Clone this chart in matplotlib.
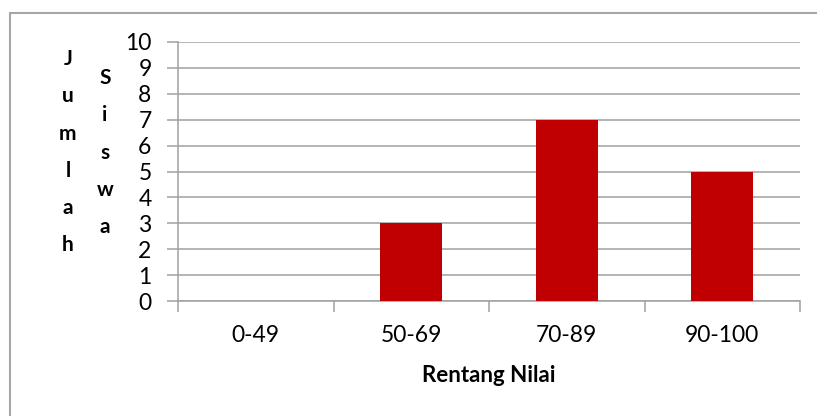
import matplotlib.pyplot as plt
from matplotlib.patches import Rectangle

plt.rcParams['font.family'] = ['Lato', 'DejaVu Sans']

categories = ['0-49', '50-69', '70-89', '90-100']
jumlah = [0, 3, 7, 5]
y_ticks = list(range(0, 11))

fig = plt.figure(figsize=(8.17, 4.16), dpi=100)
ax = fig.add_axes([178/817, 1-301/416, (800-178)/817, (301-42)/416])

# outer chart border (only top/left visible in the crop)
fig.patches.append(Rectangle((10/817, -0.2), 2, 1-13/416+0.2, transform=fig.transFigure,
                             fill=False, edgecolor='#A6A6A6', linewidth=1.5))

x = range(len(categories))
ax.bar(x, jumlah, width=0.4, color='#C00000', zorder=3)

ax.set_xlim(-0.5, len(categories) - 0.5)
ax.set_ylim(0, 10)
ax.set_yticks(y_ticks)
ax.yaxis.grid(True, color='#A0A0A0', linewidth=1.1, zorder=0)

# category boundary ticks
ax.set_xticks([i - 0.5 for i in range(len(categories) + 1)])
ax.set_xticklabels([])
ax.set_xticks(list(x), minor=True)
ax.set_xticklabels(categories, minor=True, fontsize=16.5)
ax.tick_params(axis='x', which='major', length=8, color='#A0A0A0', width=1.1, direction='out')
ax.tick_params(axis='x', which='minor', length=0, pad=17)
ax.tick_params(axis='y', length=8, color='#A0A0A0', width=1.1, labelsize=16.5, pad=11)

for s in ['top', 'right']:
    ax.spines[s].set_visible(False)
ax.spines['left'].set_color('#A0A0A0')
ax.spines['bottom'].set_color('#A0A0A0')
ax.spines['left'].set_linewidth(1.1)
ax.spines['bottom'].set_linewidth(1.1)

ax.set_xlabel('Rentang Nilai', fontsize=16, fontweight='bold', labelpad=14)

# vertical stacked y-label in two columns
fig.text(68/817, 1-49/416, 'J\nu\nm\nl\na\nh', ha='center', va='top',
         fontsize=15, fontweight='bold', linespacing=2.08)
fig.text(105/817, 1-68/416, 'S\ni\ns\nw\na', ha='center', va='top',
         fontsize=15, fontweight='bold', linespacing=2.08)

fig.savefig('out.png', dpi=100)
